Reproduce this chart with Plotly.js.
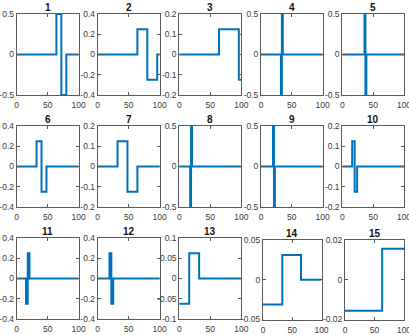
<!DOCTYPE html>
<html lang="en">
<head>
    <meta charset="UTF-8">
    <title>Basis functions</title>
    <script src="https://cdn.plot.ly/plotly-3.0.1.min.js"></script>
    <style>
        body { margin: 0; padding: 0; background: white; }
        #plot { width: 409px; height: 335px; }
    </style>
</head>
<body>
    <div id="plot"></div>

    <script>
        // step functions: breakpoints along x and the level held after each one
        const edges = [
            [0, 64, 72, 80, 100],
            [0, 64, 80, 96, 100],
            [0, 64, 96, 100],
            [0, 32.3, 33.8, 35.3, 100],
            [0, 36, 37.5, 39, 100],
            [0, 32, 40, 48, 100],
            [0, 32, 48, 64, 100],
            [0, 17.5, 19, 20.5, 100],
            [0, 19.5, 21, 22.5, 100],
            [0, 16, 20, 24, 100],
            [0, 15, 17.8, 20.6, 100],
            [0, 19, 22, 25, 100],
            [0, 16, 32, 100],
            [0, 33, 65, 100],
            [0, 63, 100]
        ];
        const levels = [
            [0, 0.5, -0.5, 0],
            [0, 0.25, -0.25, 0],
            [0, 0.125, -0.125],
            [0, -0.707, 0.707, 0],
            [0, 0.707, -0.707, 0],
            [0, 0.25, -0.25, 0],
            [0, 0.125, -0.125, 0],
            [0, -0.707, 0.707, 0],
            [0, 0.707, -0.707, 0],
            [0, 0.125, -0.125, 0],
            [0, -0.25, 0.25, 0],
            [0, 0.25, -0.25, 0],
            [-0.0625, 0.0625, 0],
            [-0.03125, 0.03125, 0],
            [-0.015625, 0.015625]
        ];
        const titles = ['1', '2', '3', '4', '5', '6', '7', '8', '9', '10', '11', '12', '13', '14', '15'];
        const yTicks = [
            [-0.5, 0, 0.5],
            [-0.4, -0.2, 0, 0.2, 0.4],
            [-0.2, -0.1, 0, 0.1, 0.2],
            [-0.5, 0, 0.5],
            [-0.5, 0, 0.5],
            [-0.4, -0.2, 0, 0.2, 0.4],
            [-0.2, -0.1, 0, 0.1, 0.2],
            [-0.5, 0, 0.5],
            [-0.5, 0, 0.5],
            [-0.2, -0.1, 0, 0.1, 0.2],
            [-0.4, -0.2, 0, 0.2, 0.4],
            [-0.4, -0.2, 0, 0.2, 0.4],
            [-0.1, -0.05, 0, 0.05, 0.1],
            [-0.05, 0, 0.05],
            [-0.02, 0, 0.02]
        ];
        const xTicks = [0, 50, 100];

        // axes boxes in pixels [left, right, top, bottom]
        const W = 409, H = 335;
        const colX = [[16.7, 78.7], [97.7, 159.7], [179.3, 241.3], [261, 322.7], [342.3, 404]];
        const rowY = [[14, 95], [126, 207], [238, 319]];

        function boxFor(i) {
            if (i === 13) return [263, 321.5, 240, 319.5];
            if (i === 14) return [345, 404, 240, 319.5];
            const c = colX[i % 5], r = rowY[Math.floor(i / 5)];
            return [c[0], c[1], r[0], r[1]];
        }

        const axisColor = '#5a5a5a';
        const textColor = '#3a3a3a';
        const traces = [];
        const layout = {
            width: W, height: H,
            margin: { l: 0, r: 0, t: 0, b: 0 },
            paper_bgcolor: 'white',
            plot_bgcolor: 'white',
            showlegend: false,
            font: { family: 'Liberation Sans, Arial, sans-serif', size: 8.5, color: textColor },
            annotations: []
        };

        titles.forEach((t, i) => {
            const n = i + 1;
            const sfx = n === 1 ? '' : String(n);
            const e = edges[i];
            const lv = levels[i].concat([levels[i][levels[i].length - 1]]);
            traces.push({
                x: e, y: lv,
                xaxis: 'x' + sfx, yaxis: 'y' + sfx,
                type: 'scatter', mode: 'lines',
                line: { color: '#0072BD', width: 2, shape: 'hv' },
                hoverinfo: 'skip'
            });

            const b = boxFor(i);
            const yr = yTicks[i][yTicks[i].length - 1];
            const common = {
                showline: true, mirror: 'ticks', linecolor: axisColor, linewidth: 1,
                ticks: 'inside', ticklen: 3, tickcolor: axisColor, tickwidth: 1,
                showgrid: false, zeroline: false, fixedrange: true,
                ticklabeloverflow: 'allow',
                tickfont: { size: 8.5, color: textColor }
            };
            layout['xaxis' + sfx] = Object.assign({}, common, {
                domain: [b[0] / W, b[1] / W],
                anchor: 'y' + sfx,
                range: [0, 100],
                tickvals: xTicks,
                ticktext: xTicks.map(String),
                ticklabelstandoff: 2
            });
            layout['yaxis' + sfx] = Object.assign({}, common, {
                domain: [1 - b[3] / H, 1 - b[2] / H],
                anchor: 'x' + sfx,
                range: [-yr, yr],
                tickvals: yTicks[i],
                ticktext: yTicks[i].map(String),
                ticklabelstandoff: 0
            });
            layout.annotations.push({
                text: '<b>' + t + '</b>',
                xref: 'paper', yref: 'paper',
                x: (b[0] + b[1]) / 2 / W,
                y: 1 - b[2] / H,
                xanchor: 'center', yanchor: 'bottom',
                yshift: -1,
                showarrow: false,
                font: { size: 10, color: '#111' }
            });
        });

        Plotly.newPlot('plot', traces, layout, { displayModeBar: false, staticPlot: true });
    </script>
</body>
</html>
